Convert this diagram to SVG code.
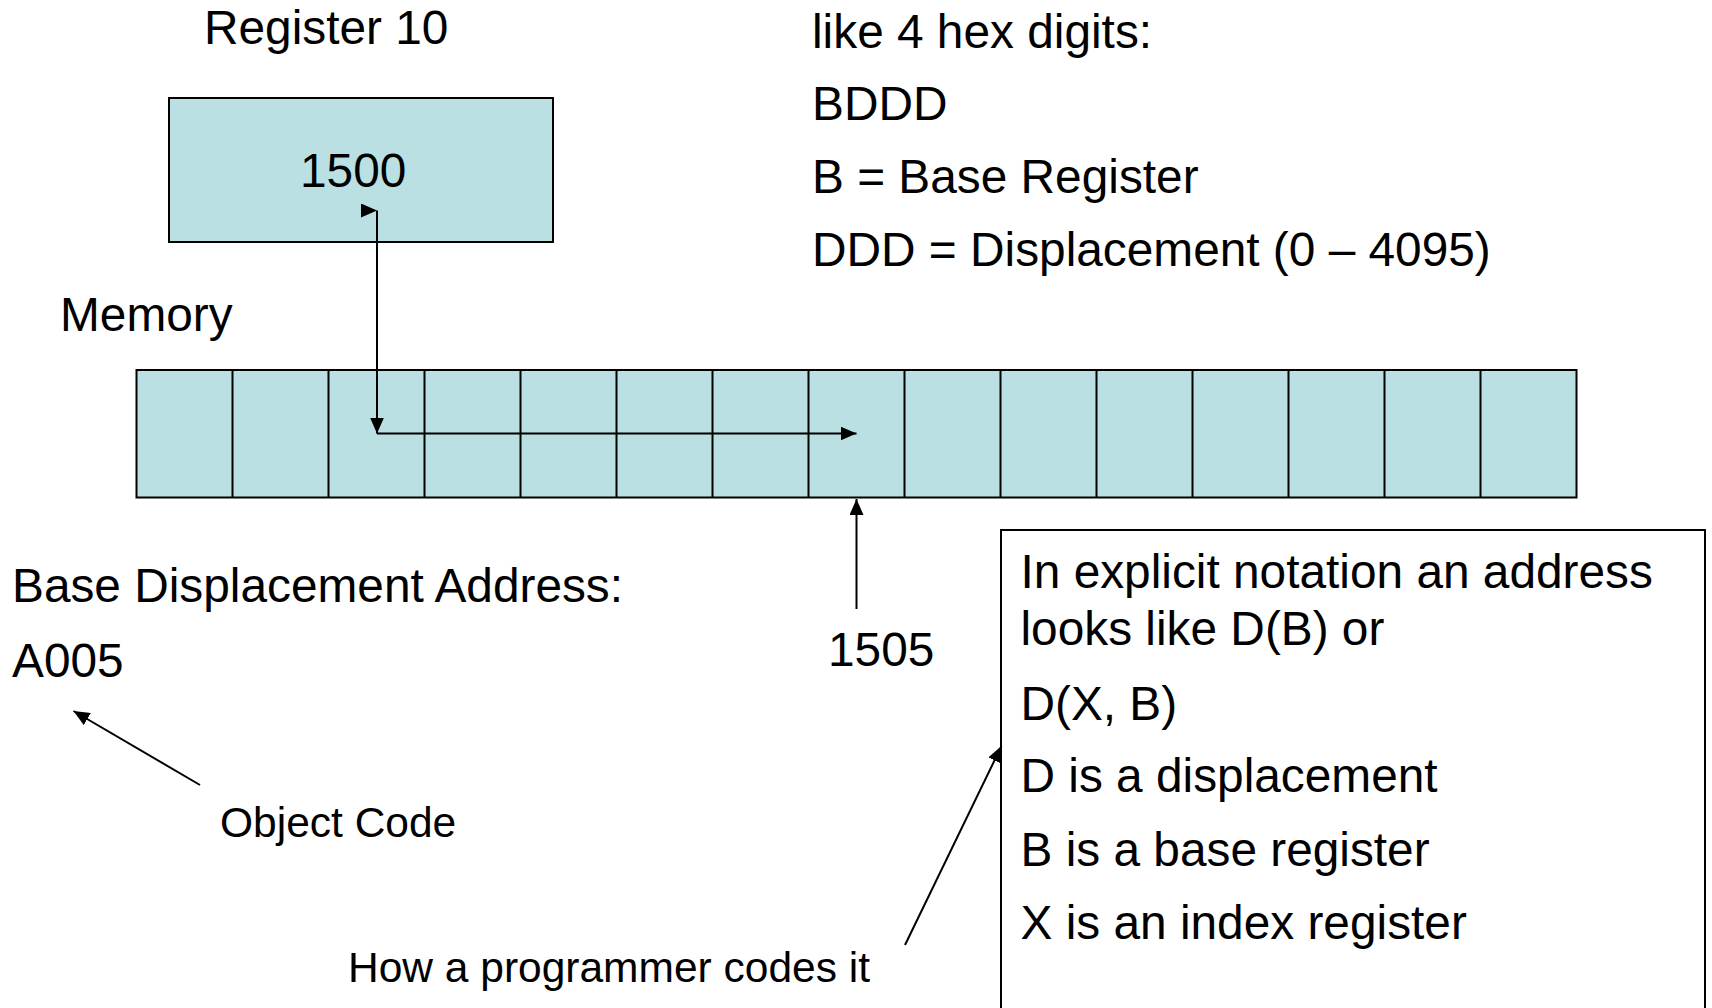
<svg xmlns="http://www.w3.org/2000/svg" width="1712" height="1008" viewBox="0 0 1712 1008">
  <style>
    .t { font-family: "Liberation Sans", Arial, sans-serif; font-size: 47.8px; fill: #000; }
    .s { font-family: "Liberation Sans", Arial, sans-serif; font-size: 42.5px; fill: #000; }
    .cell { fill: #BBE0E3; stroke: #000; stroke-width: 2; }
    .div { stroke: #000; stroke-width: 2; }
    .conn { fill: none; stroke: #000; stroke-width: 2; }
  </style>
  <defs>
    <marker id="arrow" viewBox="0 0 16 14" refX="16" refY="7" markerWidth="16" markerHeight="14" markerUnits="userSpaceOnUse" orient="auto">
      <path d="M0,0 L16,7 L0,14 z" fill="#000"/>
    </marker>
    <marker id="arrowRight" viewBox="0 0 16 14" refX="16" refY="7" markerWidth="16" markerHeight="14" markerUnits="userSpaceOnUse" orient="0">
      <path d="M0,0 L16,7 L0,14 z" fill="#000"/>
    </marker>
  </defs>
  <rect width="1712" height="1008" fill="#fff"/>

  <g id="register-label">
    <text class="t" x="204" y="44">Register 10</text>
  </g>

  <g id="register-box">
    <rect class="cell" x="169" y="98" width="384" height="144"/>
    <text class="t" x="300" y="187">1500</text>
  </g>

  <g id="format-notes">
    <text class="t" x="812" y="48">like 4 hex digits:</text>
    <text class="t" x="812" y="120">BDDD</text>
    <text class="t" x="812" y="193">B = Base Register</text>
    <text class="t" x="812" y="266">DDD = Displacement (0 – 4095)</text>
  </g>

  <g id="memory-label">
    <text class="t" x="60" y="331">Memory</text>
  </g>

  <g id="memory">
    <rect class="cell" x="136.5" y="370" width="1440" height="127.5"/>
    <path class="div" d="M232.5,370 V497.5 M328.5,370 V497.5 M424.5,370 V497.5 M520.5,370 V497.5 M616.5,370 V497.5 M712.5,370 V497.5 M808.5,370 V497.5 M904.5,370 V497.5 M1000.5,370 V497.5 M1096.5,370 V497.5 M1192.5,370 V497.5 M1288.5,370 V497.5 M1384.5,370 V497.5 M1480.5,370 V497.5"/>
  </g>

  <g id="base-displacement">
    <text class="t" x="12" y="602">Base Displacement Address:</text>
    <text class="t" x="12" y="677">A005</text>
  </g>

  <g id="address-1505">
    <text class="t" x="828" y="666">1505</text>
  </g>

  <g id="object-code">
    <text class="s" x="220" y="837">Object Code</text>
  </g>

  <g id="programmer-label">
    <text class="s" x="348" y="982">How a programmer codes it</text>
  </g>

  <g id="explicit-notation">
    <rect x="1001" y="530" width="704" height="560" fill="#fff" stroke="#000" stroke-width="2"/>
    <text class="t" x="1020.5" y="588">In explicit notation an address</text>
    <text class="t" x="1020.5" y="645">looks like D(B) or</text>
    <text class="t" x="1020.5" y="720">D(X, B)</text>
    <text class="t" x="1020.5" y="792">D is a displacement</text>
    <text class="t" x="1020.5" y="866">B is a base register</text>
    <text class="t" x="1020.5" y="939">X is an index register</text>
  </g>

  <g id="connectors">
    <path class="conn" d="M377,210.5 V433.5" marker-start="url(#arrowRight)" marker-end="url(#arrow)"/>
    <path class="conn" d="M377,433.5 H856.5" marker-end="url(#arrow)"/>
    <path class="conn" d="M856.5,609 V499" marker-end="url(#arrow)"/>
    <path class="conn" d="M200,785 L73.5,711" marker-end="url(#arrow)"/>
    <path class="conn" d="M905,945 L1001.5,746" marker-end="url(#arrow)"/>
  </g>
</svg>
